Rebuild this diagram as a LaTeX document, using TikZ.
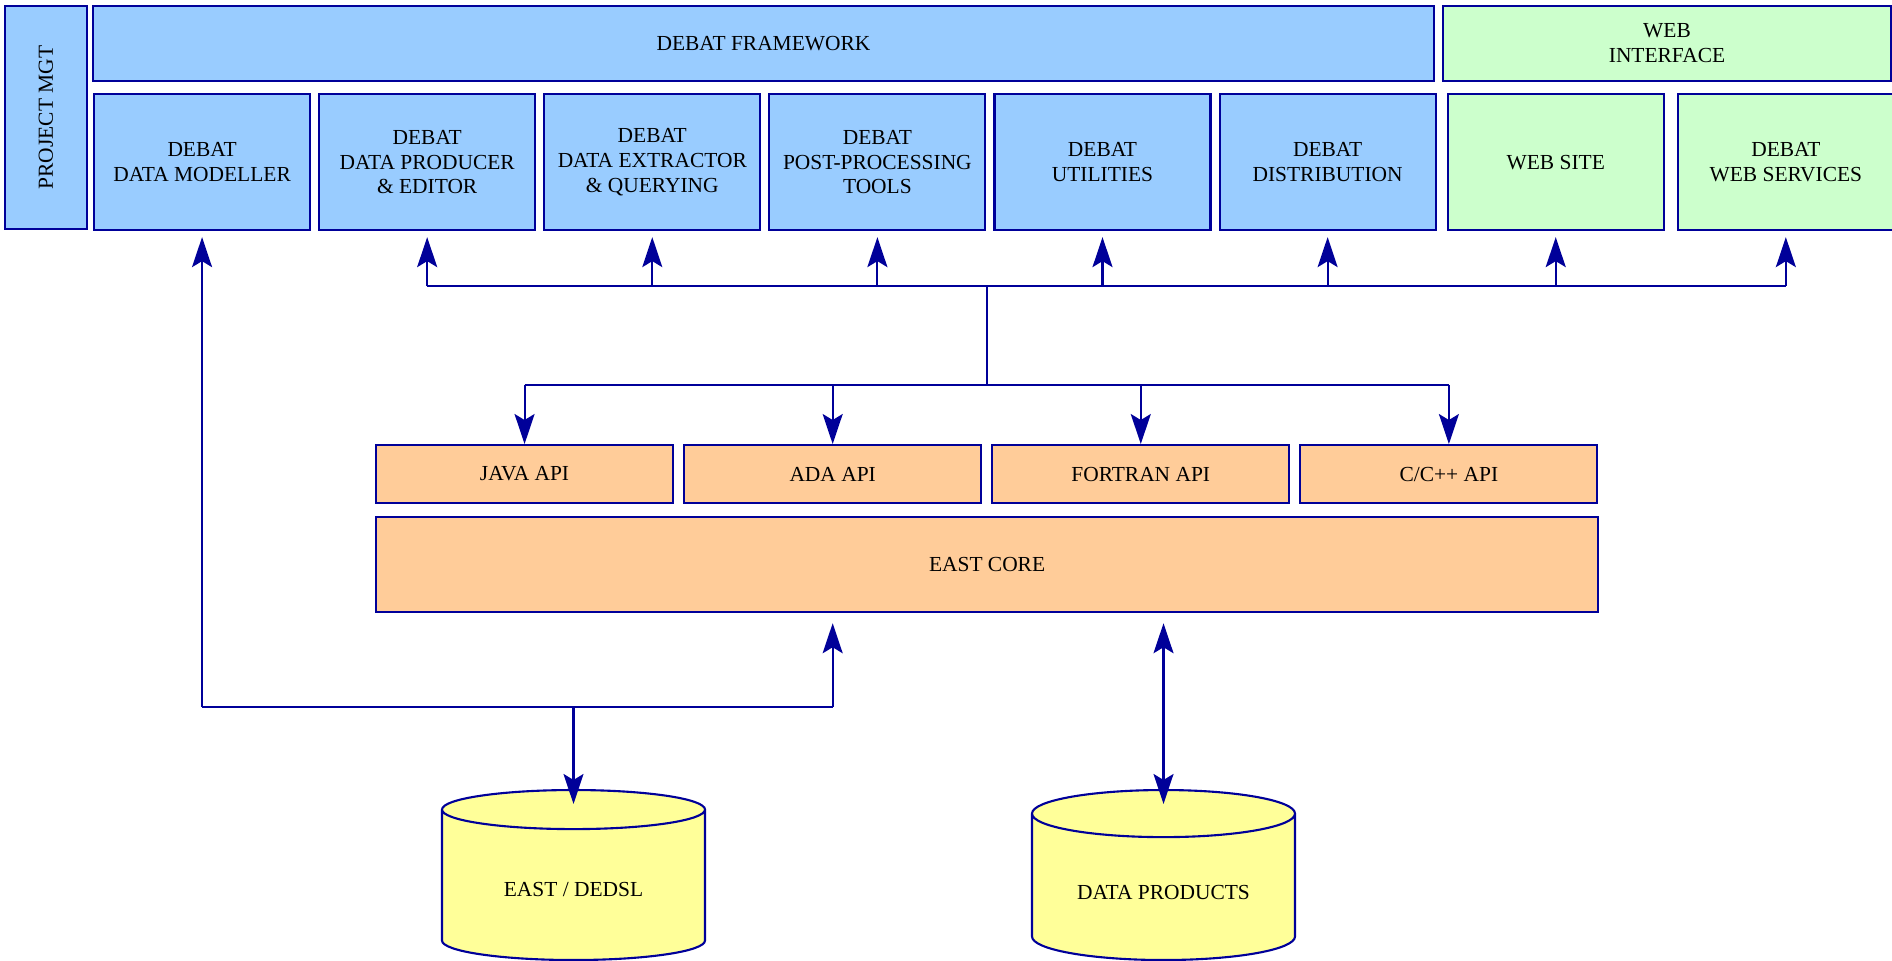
\documentclass[tikz,border=0pt]{standalone}
\usepackage{fontspec}
\setmainfont{Liberation Serif}
\usepackage{xcolor}
\usepackage{tikz}
\usetikzlibrary{arrows.meta, positioning, calc, shapes.geometric}
\definecolor{edgeNavy} {HTML}{000099}
\definecolor{frameBlue}{HTML}{99CCFF}
\definecolor{webGreen} {HTML}{CCFFCC}
\definecolor{apiPeach} {HTML}{FFCC99}
\definecolor{dbYellow} {HTML}{FFFF99}

\begin{document}
\begin{tikzpicture}[
    >={Stealth[length=3mm, width=2mm, inset=0.6mm]},
    box/.style={draw=edgeNavy, fill=frameBlue, line width=0.6pt, inner sep=2pt,
                font=\fontsize{6.1}{7.1}\selectfont, align=center,
                minimum width=2.16cm, minimum height=1.36cm},
    web/.style={box, fill=webGreen},
    api/.style={box, fill=apiPeach, minimum width=2.97cm, minimum height=0.58cm},
    db/.style={cylinder, shape border rotate=90, aspect=0.24, draw=edgeNavy,
               fill=dbYellow, line width=0.6pt, font=\fontsize{6.1}{7.1}\selectfont,
               minimum width=2.63cm, minimum height=1.70cm, anchor=shape center},
    wire/.style={draw=edgeNavy, line width=0.6pt},
    arr/.style={wire, ->},
    both/.style={wire, <->},
  ]
    \useasboundingbox (0,0) rectangle (18.92,-9.60);

    \node[box, rotate=90, minimum width=2.23cm, minimum height=0.82cm] (mgt) at (0.46,-1.175) {PROJECT MGT};
    \node[box, minimum width=13.41cm, minimum height=0.75cm] (fw) at (7.635,-0.435) {DEBAT FRAMEWORK};
    \node[web, minimum width=4.48cm, minimum height=0.75cm] (wi) at (16.67,-0.435) {WEB\\INTERFACE};

    \node[box, anchor=north west] (mod) at (0.93,-0.93) {DEBAT\\DATA MODELLER};
    \node[box, right=0.07cm of mod] (prod) {DEBAT\\DATA PRODUCER\\\& EDITOR};
    \node[box, right=0.07cm of prod] (ext) {DEBAT\\DATA EXTRACTOR\\\& QUERYING};
    \node[box, right=0.07cm of ext] (post) {DEBAT\\POST-PROCESSING\\TOOLS};
    \node[box, right=0.07cm of post] (utl) {DEBAT\\UTILITIES};
    \node[box, right=0.07cm of utl] (dist) {DEBAT\\DISTRIBUTION};
    \node[web, right=0.10cm of dist] (site) {WEB SITE};
    \node[web, right=0.12cm of site] (wsvc) {DEBAT\\WEB SERVICES};

    \node[api, anchor=north west] (java) at (3.75,-4.44) {JAVA API};
    \node[api, right=0.09cm of java] (ada) {ADA API};
    \node[api, right=0.09cm of ada] (fort) {FORTRAN API};
    \node[api, right=0.09cm of fort] (capi) {C/C++ API};
    \node[api, minimum width=12.22cm, minimum height=0.95cm,
          below right=0.12cm and 0cm of java.south west] (core) {EAST CORE};

    \node[db] (east) at (5.735,-8.75) {EAST / DEDSL};
    \node[db] (dp) at (11.635,-8.75) {DATA PRODUCTS};

    \coordinate (bus) at (0,-2.86);
    \coordinate (apibus) at (0,-3.85);
    \coordinate (low) at (0,-7.07);

    \draw[wire] (prod.south |- bus) -- (wsvc.south |- bus);
    \draw[arr, shorten >=0.06cm] (prod.south |- bus) -- (prod.south);
    \draw[arr, shorten >=0.06cm] (ext.south |- bus) -- (ext.south);
    \draw[arr, shorten >=0.06cm] (post.south |- bus) -- (post.south);
    \draw[arr, shorten >=0.06cm] (utl.south |- bus) -- (utl.south);
    \draw[arr, shorten >=0.06cm] (dist.south |- bus) -- (dist.south);
    \draw[arr, shorten >=0.06cm] (site.south |- bus) -- (site.south);
    \draw[arr, shorten >=0.06cm] (wsvc.south |- bus) -- (wsvc.south);
    \draw[wire] (core.north |- bus) -- (core.north |- apibus);
    \draw[wire] (java.north |- apibus) -- (capi.north |- apibus);
    \draw[arr] (java.north |- apibus) -- (java.north);
    \draw[arr] (ada.north |- apibus) -- (ada.north);
    \draw[arr] (fort.north |- apibus) -- (fort.north);
    \draw[arr] (capi.north |- apibus) -- (capi.north);

    \draw[wire] (mod.south |- low) -- (ada.south |- low);
    \draw[arr, shorten >=0.06cm] (mod.south |- low) -- (mod.south);
    \draw[arr, shorten >=0.1cm] (ada.south |- low) -- (ada.south |- core.south);
    \draw[arr, shorten >=-0.15cm] (east.north |- low) -- (east.north);
    \draw[both, shorten <=0.1cm, shorten >=-0.15cm] (dp.north |- core.south) -- (dp.north);
  \end{tikzpicture}
\end{document}
